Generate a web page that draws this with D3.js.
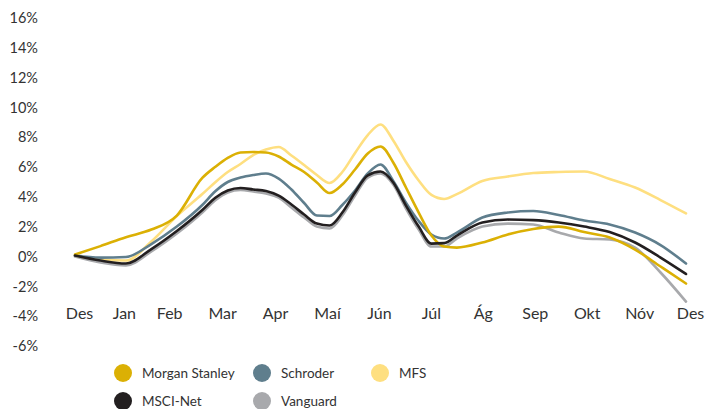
<!DOCTYPE html>
<html>
<head>
<meta charset="utf-8">
<script src="https://cdn.jsdelivr.net/npm/d3@7"></script>
<style>
  body { margin: 0; background: #fff; }
  text { font-family: Lato, "Open Sans", sans-serif; fill: #333; }
</style>
</head>
<body>
<div id="chart"></div>
<script>

// month positions of the samples (0 = Des, 12 = Des next year)
var months = [0, 0.5, 1, 1.5, 2, 2.5, 2.75, 3, 3.25, 3.5, 3.75, 4, 4.25, 4.5, 4.75, 5,
  5.25, 5.5, 5.75, 6, 6.25, 6.5, 6.75, 7, 7.25, 7.5, 8, 8.5, 9, 9.5, 10, 10.5, 11, 11.5, 12];

var morganStanley = [0.13, 0.70, 1.30, 1.81, 2.75, 5.27, 6.00, 6.62, 6.98, 7.01, 6.98, 6.71, 6.17, 5.67, 4.97, 4.26,
  4.83, 5.84, 6.91, 7.38, 6.31, 4.63, 2.95, 1.41, 0.67, 0.60, 0.94, 1.48, 1.85, 2.01, 1.64, 1.28, 0.47, -0.67, -1.81];

var schroder = [0.07, -0.07, -0.03, 0.84, 2.01, 3.46, 4.36, 5.00, 5.30, 5.47, 5.57, 5.23, 4.50, 3.59, 2.75, 2.72,
  3.46, 4.43, 5.57, 6.17, 5.07, 3.62, 2.38, 1.48, 1.21, 1.61, 2.62, 2.95, 3.05, 2.79, 2.42, 2.15, 1.61, 0.77, -0.47];

var mfs = [0.07, -0.20, -0.27, 1.01, 2.72, 4.19, 4.97, 5.67, 6.21, 6.81, 7.18, 7.35, 6.78, 6.14, 5.47, 4.93,
  5.67, 6.95, 8.15, 8.86, 7.79, 6.34, 5.10, 4.13, 3.86, 4.19, 5.07, 5.37, 5.60, 5.67, 5.70, 5.20, 4.63, 3.79, 2.89];

var msciNet = [0.07, -0.27, -0.47, 0.50, 1.71, 3.12, 3.93, 4.43, 4.60, 4.50, 4.40, 4.09, 3.49, 2.82, 2.21, 2.08,
  2.95, 4.30, 5.44, 5.70, 4.97, 3.42, 2.01, 0.87, 0.90, 1.41, 2.28, 2.48, 2.44, 2.28, 2.01, 1.64, 0.94, -0.07, -1.17];

var vanguard = [0.00, -0.40, -0.60, 0.34, 1.54, 2.95, 3.76, 4.30, 4.46, 4.36, 4.23, 3.96, 3.29, 2.62, 2.01, 1.88,
  2.75, 4.09, 5.30, 5.57, 4.83, 3.22, 1.81, 0.67, 0.67, 1.21, 2.01, 2.21, 2.15, 1.61, 1.21, 1.14, 0.60, -1.07, -3.02];

// x axis labels and where they sit (in months)
var monthLabels = ["Des", "Jan", "Feb", "Mar", "Apr", "Maí", "Jún", "Júl", "Ág", "Sep", "Okt", "Nóv", "Des"];
var monthLabelPos = [0.08, 0.96, 1.85, 2.89, 3.93, 4.95, 5.97, 6.99, 8.01, 9.03, 10.05, 11.08, 12.08];

var yTicks = [16, 14, 12, 10, 8, 6, 4, 2, 0, -2, -4, -6];

var series = [
  { name: "Vanguard", values: vanguard, color: "#a8a9ac" },
  { name: "MFS", values: mfs, color: "#fedf80" },
  { name: "Schroder", values: schroder, color: "#5f7e8d" },
  { name: "Morgan Stanley", values: morganStanley, color: "#dbb004" },
  { name: "MSCI-Net", values: msciNet, color: "#231f20" }
];

var legendOrder = ["Morgan Stanley", "Schroder", "MFS", "MSCI-Net", "Vanguard"];

var svgWidth = 705, svgHeight = 409;

var svg = d3.select("#chart")
  .append("svg")
  .attr("width", svgWidth)
  .attr("height", svgHeight);

var xScale = d3.scaleLinear().domain([0, 12]).range([75, 686]);
var yScale = d3.scaleLinear().domain([-6, 16]).range([346, 18]);

// y axis labels
var yAxis = d3.axisLeft(yScale)
  .tickValues(yTicks)
  .tickSize(0)
  .tickPadding(0)
  .tickFormat(d => d + "%");

svg.append("g")
  .attr("transform", "translate(38,0)")
  .call(yAxis)
  .call(g => g.select(".domain").remove())
  .selectAll("text")
  .attr("font-size", "14.5px")
  .attr("font-family", "Lato, sans-serif")
  .attr("fill", "#333");

// x axis labels, on the -4% row
var xAxis = d3.axisBottom(xScale)
  .tickValues(monthLabelPos)
  .tickSize(0)
  .tickPadding(0)
  .tickFormat((d, i) => monthLabels[i]);

svg.append("g")
  .attr("transform", `translate(0,${yScale(-4) - 9})`)
  .call(xAxis)
  .call(g => g.select(".domain").remove())
  .selectAll("text")
  .attr("font-size", "16px")
  .attr("font-family", "Lato, sans-serif")
  .attr("fill", "#333");

// lines
var line = d3.line()
  .x((d, i) => xScale(months[i]))
  .y(d => yScale(d))
  .curve(d3.curveMonotoneX);

svg.append("g")
  .selectAll("path")
  .data(series)
  .enter()
  .append("path")
  .attr("d", d => line(d.values))
  .attr("fill", "none")
  .attr("stroke", d => d.color)
  .attr("stroke-width", 2.6)
  .attr("stroke-linejoin", "round")
  .attr("stroke-linecap", "round");

// legend
var legend = svg.append("g");

var legendItems = legend.selectAll("g")
  .data(legendOrder)
  .enter()
  .append("g")
  .attr("transform", (d, i) => `translate(${[123, 262, 380][i % 3]},${i < 3 ? 373 : 401})`);

legendItems.append("circle")
  .attr("r", 9)
  .attr("fill", d => series.find(s => s.name === d).color);

legendItems.append("text")
  .attr("x", 19)
  .attr("dy", "0.35em")
  .attr("font-size", "13.5px")
  .text(d => d);

</script>
</body>
</html>
